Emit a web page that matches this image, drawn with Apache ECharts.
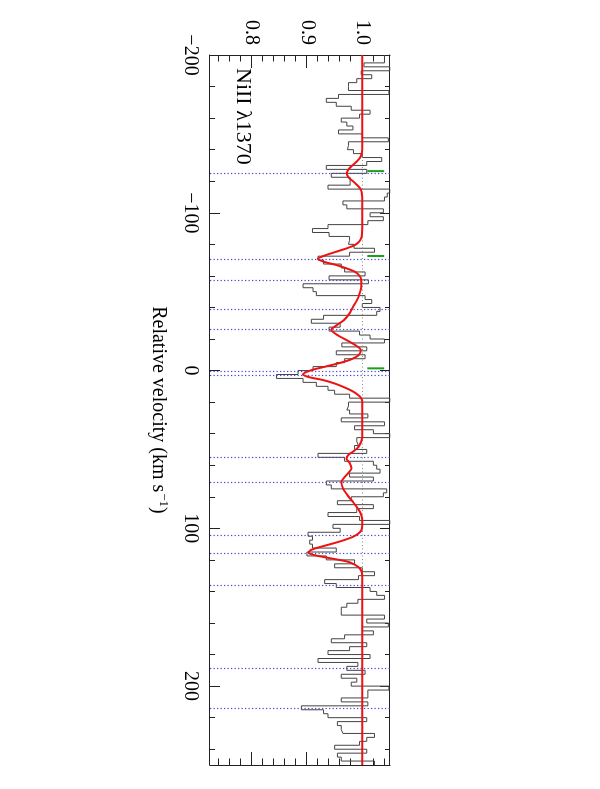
<!DOCTYPE html>
<html><head><meta charset="utf-8">
<script src="https://cdn.jsdelivr.net/npm/echarts@6/dist/echarts.min.js"></script>
<style>
html,body{margin:0;padding:0;background:#fff;overflow:hidden;width:600px;height:789px;}
#chart{position:absolute;left:0;top:0;width:789px;height:600px;transform-origin:0 0;transform:translateX(600px) rotate(90deg);}
</style></head><body><div id="chart"></div>
<script>
// ---- data ----
const binStart = -200;           // left edge of first pixel bin (km/s)
const binWidth = 2.5;            // bin width (km/s)
const flux = [
  1.04, 1.04, 1.003, 1.05, 0.998, 1.017, 0.99, 0.975, 0.975, 1.048, 0.957, 0.935, 0.953, 0.98, 1.014, 0.995, 0.962, 0.972, 0.983, 0.957, 1.0, 1.047, 0.975,
  0.973, 0.984, 1.0, 1.035, 1.008, 0.935, 1.008, 0.944, 0.978, 0.978, 0.938, 1.05, 1.045, 1.04, 0.965, 0.972, 1.038, 1.014, 1.038, 1.01, 0.938, 0.91, 0.94,
  0.977, 0.975, 0.985, 1.022, 0.977, 0.92, 0.93, 0.962, 0.968, 1.005, 0.94, 1.011, 0.893, 0.911, 0.917, 1.005, 1.017, 1.0, 1.032, 1.026, 0.93, 0.908,
  0.96, 0.94, 0.995, 1.014, 1.04, 0.963, 1.008, 0.953, 1.005, 0.968, 0.953, 0.911, 0.884, 0.845, 0.893, 0.917, 0.938, 0.95, 0.977, 1.05, 0.975, 0.972, 0.977,
  1.01, 0.962, 1.04, 0.986, 1.02, 1.05, 0.99, 0.993, 0.986, 1.008, 0.92, 0.968, 1.02, 1.026, 1.032, 0.977, 1.02, 0.935, 0.944, 1.044, 1.038, 0.98, 0.955,
  1.02, 0.99, 0.938, 0.995, 1.05, 0.947, 0.96, 0.902, 0.91, 0.905, 0.91, 0.953, 0.9, 0.935, 0.986, 0.95, 1.0, 1.022, 0.993, 0.932, 0.953, 1.014, 1.026,
  1.04, 0.992, 0.972, 0.962, 0.962, 1.04, 1.008, 1.047, 1.0, 1.02, 0.968, 0.944, 1.008, 0.977, 0.938, 1.014, 0.92, 0.992, 0.972, 1.005, 0.962, 0.99, 0.98,
  1.048, 1.01, 1.01, 0.962, 1.01, 0.89, 0.93, 0.938, 1.008, 0.955, 0.962, 0.965, 1.022, 1.008, 0.995, 0.95, 1.008, 0.955, 0.962, 1.022
];
const modelVelocity = [-200,-140,-137.5,-135,-132.5,-130,-127.5,-125,-122.5,-120,-117.5,-115,-112.5,-110,-90,-85,-82,-79.6,-77.5,-75.3,-73,-70.7,-68.8,-66.9,-64.7,-62.6,-60,-57.4,-53,-48.9,-45.7,-42.6,-39.5,-36.3,-32,-28.8,-25.8,-22.5,-19.3,-16,-13,-10,-8.3,-6.7,-4.5,-2.4,0,2.4,4.2,6,8.2,10.3,13,15.5,17.5,19.7,42,45,47.2,49.3,51.5,53.6,55.7,58.8,62,64,66.2,68.4,70.5,73.2,75.8,78.4,81,83.2,85.3,88.4,91.6,94.8,98,101.1,103.3,105.4,107.5,109.6,111.7,113.8,115.5,117,118.5,120,121.5,124.4,127.5,130,250];
const modelFlux = [1.0,1.0,0.999,0.996,0.99,0.982,0.975,0.972,0.975,0.983,0.991,0.997,0.999,1.0,1.0,0.999,0.995,0.987,0.972,0.953,0.933,0.92,0.932,0.953,0.972,0.987,0.995,0.998,0.998,0.995,0.992,0.987,0.982,0.977,0.967,0.954,0.944,0.955,0.9715,0.988,0.997,0.994,0.987,0.977,0.956,0.932,0.906,0.893,0.904,0.929,0.95,0.9655,0.982,0.9925,0.998,1.0,1.0,0.998,0.995,0.9907,0.983,0.9745,0.9715,0.9775,0.9805,0.977,0.9715,0.966,0.9625,0.9635,0.9667,0.972,0.9775,0.983,0.9875,0.994,0.998,0.9997,0.9997,0.9985,0.993,0.983,0.967,0.947,0.925,0.907,0.903,0.914,0.935,0.958,0.977,0.9925,0.999,1.0,1.0];
const componentVelocities = [-125.1, -70.7, -57.4, -38.6, -25.9, 0.7, 2.8, 55, 70.5, 104.2, 115.5, 136, 188.4, 214.1];
const markerVelocities = [-126.4, -72.6, -1.4];
const markerFlux = [1.009, 1.0395];
const velocityTicks = [-200, -100, 0, 100, 200];
const velocityMinorTicks = [-180,-160,-140,-120,-80,-60,-40,-20,20,40,60,80,120,140,160,180,220,240];
const fluxTicks = [0.8, 0.9, 1.0];
const fluxMinorTicks = [0.74,0.76,0.78,0.82,0.84,0.86,0.88,0.92,0.94,0.96,0.98,1.02,1.04];
const velocityRange = [-200, 250];
const fluxRange = [0.725, 1.05];
const lineLabel = 'NiII λ1370';

// ---- chart ----
const FONT = '"Liberation Serif","DejaVu Serif","Times New Roman",serif';
const AX = '#222';
const histData = flux.map((f, i) => [binStart + i * binWidth, f]);
histData.push([binStart + flux.length * binWidth, flux[flux.length - 1]]);
const modelData = modelVelocity.map((v, i) => [v, modelFlux[i]]);

function mkAxis(range, position, ticks, len, withLine, labelOpt, extra) {
  return Object.assign({
    type: 'value', min: range[0], max: range[1], position: position,
    axisLine: { show: withLine, onZero: false, lineStyle: { color: AX, width: 1 } },
    axisTick: { show: true, inside: true, length: len, customValues: ticks, lineStyle: { color: AX, width: 1 } },
    axisLabel: labelOpt || { show: false },
    splitLine: { show: false }, minorTick: { show: false }
  }, extra || {});
}

const xLabel = {
  show: true, customValues: velocityTicks, margin: 10,
  fontFamily: FONT, fontSize: 20, color: '#000',
  formatter: v => String(v).replace('-', '\u2212')
};
const yLabel = {
  show: true, customValues: fluxTicks, margin: 10,
  fontFamily: FONT, fontSize: 20, color: '#000',
  formatter: v => Number(v).toFixed(1)
};

const series = [
  {
    type: 'line', step: 'end', data: histData, symbol: 'none', z: 3,
    lineStyle: { color: '#444', width: 1 },
    markLine: {
      silent: true, symbol: ['none', 'none'], label: { show: false }, animation: false,
      data: componentVelocities.map(v => ({ xAxis: v, lineStyle: { color: '#4646d2', width: 1.2, type: [1.3, 2.2] } }))
        .concat([{ yAxis: 1.0, lineStyle: { color: '#8a8a8a', width: 1, type: [1, 2.5] } }])
    }
  },
  {
    type: 'line', data: modelData, symbol: 'none', smooth: 0.3, z: 5,
    lineStyle: { color: '#ee1111', width: 2 }
  }
].concat(markerVelocities.map(v => ({
  type: 'line', data: [[v, markerFlux[0]], [v, markerFlux[1]]], symbol: 'none', z: 4,
  lineStyle: { color: '#1aa01a', width: 2 }
})));

const chart = echarts.init(document.getElementById('chart'), null, { renderer: 'canvas' });
chart.setOption({
  animation: false,
  backgroundColor: '#fff',
  grid: { left: 55, right: 24, top: 210, bottom: 210, containLabel: false },
  xAxis: [
    mkAxis(velocityRange, 'bottom', velocityTicks, 10, true, xLabel, {
      name: 'Relative velocity (km s{sup|\u22121})', nameLocation: 'middle', nameGap: 40,
      nameTextStyle: {
        fontFamily: FONT, fontSize: 20, color: '#000',
        rich: { sup: { fontFamily: FONT, fontSize: 13, verticalAlign: 'top', padding: [0, 0, 10, 1] } }
      }
    }),
    mkAxis(velocityRange, 'bottom', velocityMinorTicks, 5, false),
    mkAxis(velocityRange, 'top', velocityTicks, 10, true),
    mkAxis(velocityRange, 'top', velocityMinorTicks, 5, false)
  ],
  yAxis: [
    mkAxis(fluxRange, 'left', fluxTicks, 13, true, yLabel),
    mkAxis(fluxRange, 'left', fluxMinorTicks, 6.5, false),
    mkAxis(fluxRange, 'right', fluxTicks, 13, true),
    mkAxis(fluxRange, 'right', fluxMinorTicks, 6.5, false)
  ],
  graphic: [{
    type: 'text', x: 68, y: 357, silent: true,
    style: { text: lineLabel, fontFamily: FONT, fontSize: 22, fill: '#000', align: 'left', verticalAlign: 'middle' }
  }],
  series: series
});
</script></body></html>
